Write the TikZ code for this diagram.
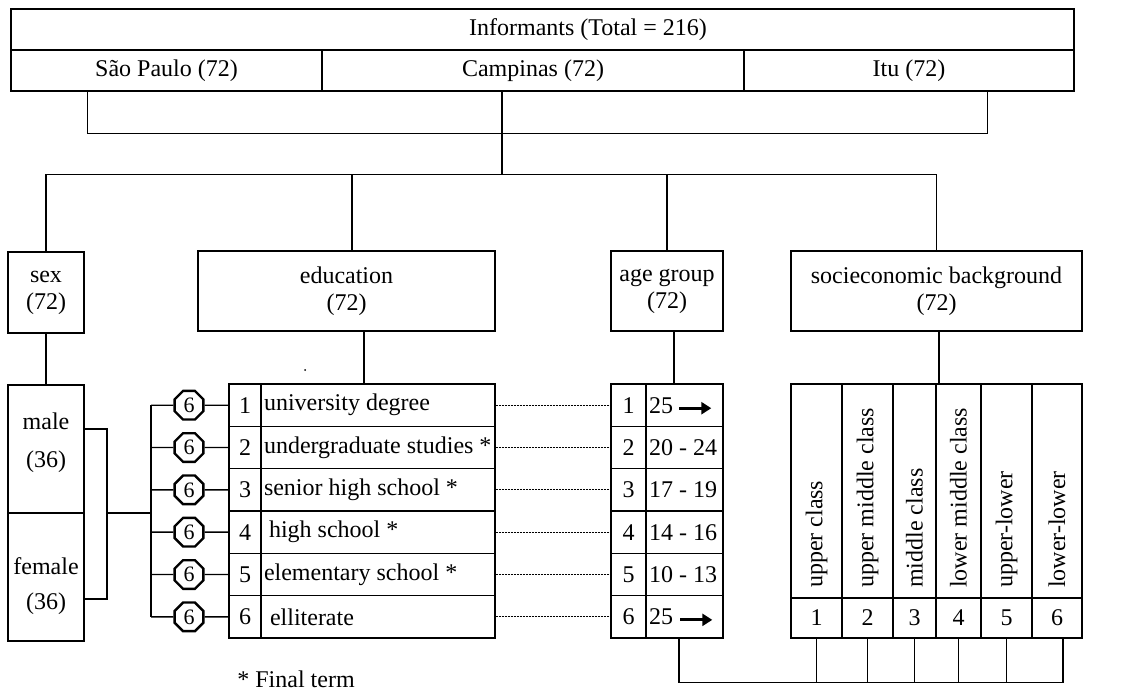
\documentclass[tikz,border=0pt]{standalone}
\usepackage{fontspec}
\setmainfont{Liberation Serif}
\usetikzlibrary{calc}
\usetikzlibrary{arrows.meta}
\usetikzlibrary{shapes.geometric}

\begin{document}
\begin{tikzpicture}[x=1pt, y=-1pt, line width=1.4pt,
    font=\fontsize{24}{27}\selectfont,
    box/.style={draw, inner sep=0pt, align=center},
    octo/.style={draw, regular polygon, regular polygon sides=8, line width=2.4pt, inner sep=0pt, minimum size=31pt, font=\fontsize{22}{24}\selectfont},
    dots/.style={line width=1pt, dash pattern=on 2pt off 1pt},
    older/.style={-{Triangle[length=10pt,width=12pt]}, line width=3pt}]
  \useasboundingbox (0,0) rectangle (1121,693);

  % informants and cities
  \node[box, minimum width=1063pt, minimum height=41pt] (total) at (542.5,29.5) {};
  \node (totaltext) at (588,30) {Informants (Total = 216)};
  \node[box, minimum width=311pt, minimum height=41pt] (sp) at (166.5,70.5) {São Paulo (72)};
  \node[box, minimum width=422pt, minimum height=41pt] (camp) at (533,70.5) {Campinas (72)};
  \node[box, minimum width=330pt, minimum height=41pt] (itu) at (909,70.5) {Itu (72)};
  \draw ([xshift=77pt]sp.south west) -- ++(0,42) -| ([xshift=-87pt]itu.south east);
  \coordinate (hub) at ($(camp.south)+(-31,83)$);
  \draw ([xshift=-31pt]camp.south) -- (hub);

  % the four variables
  \node[box, minimum width=76pt, minimum height=81pt] (sex) at (46,292.5) {sex\\(72)};
  \node[box, minimum width=297pt, minimum height=80pt] (edu) at (346.5,291) {education\\(72)};
  \node[box, minimum width=112pt, minimum height=80pt] (age) at (667,291) {age group\\(72)};
  \node[box, minimum width=291pt, minimum height=80pt] (ses) at (936.5,291) {socieconomic background\\(72)};
  \draw (sex.north) |- (hub) -| (ses.north);
  \draw ([xshift=5.5pt]edu.north) -- ([xshift=5.5pt]edu.north |- hub);
  \draw (age.north) -- (age.north |- hub);

  % sex
  \node[box, minimum width=76pt, minimum height=128pt] (male) at (46,449) {};
  \node[box, minimum width=76pt, minimum height=128pt] (female) at (46,577) {};
  \node[align=center] (maletext) at (46,443) {male\\[11pt](36)};
  \node[align=center] (femaletext) at (46,586) {female\\[8pt](36)};
  \draw (sex.south) -- (male.north);
  \coordinate (sexj) at (107,513);
  \coordinate (eduj) at (151,513);
  \draw ([yshift=20pt]male.east) -| (sexj) |- ([yshift=-22pt]female.east);
  \draw (sexj) -- (eduj);

  % education levels
  \foreach \n/\lab in {1/university degree, 2/undergraduate studies *, 3/senior high school *,
      4/\hspace{5pt}high school *, 5/elementary school *, 6/\hspace{6pt}elliterate} {
    \node[box, minimum width=32pt, minimum height=42.33pt] (en\n) at (245,{405.2+42.33*(\n-1)}) {\n};
    \node[box, minimum width=234pt, minimum height=42.33pt] (et\n) at (378,{405.2+42.33*(\n-1)}) {};
    \node[anchor=west, inner xsep=3pt] (etl\n) at (et\n.west) {\lab};
    \node[octo] (oct\n) at (189,{405.2+42.33*(\n-1)}) {6};
    \draw (eduj |- oct\n) -- (oct\n) -- (en\n);
  }
  \draw (eduj |- oct1) -- (eduj |- oct6);
  \draw ([xshift=17.5pt]edu.south) -- ([xshift=17.5pt]edu.south |- et1.north);
  \fill (305,370) circle (1);

  % age groups
  \foreach \n/\lab in {1/25, 2/20 - 24, 3/17 - 19, 4/14 - 16, 5/10 - 13, 6/25} {
    \node[box, minimum width=35pt, minimum height=42.33pt] (an\n) at (628.5,{405.2+42.33*(\n-1)}) {\n};
    \node[box, minimum width=77pt, minimum height=42.33pt] (av\n) at (684.5,{405.2+42.33*(\n-1)}) {};
    \node[anchor=west, inner xsep=3pt] (avl\n) at (av\n.west) {\lab};
    \draw[dots] (et\n) -- (an\n);
  }
  \draw[older] ([xshift=34pt, yshift=-3pt]av1.west) -- ([xshift=66pt, yshift=-3pt]av1.west);
  \draw[older] ([xshift=35pt, yshift=-3pt]av6.west) -- ([xshift=67pt, yshift=-3pt]av6.west);
  \draw ([xshift=7pt]age.south) -- ([xshift=7pt]age.south |- av1.north);

  % socioeconomic classes
  \foreach \n/\l/\r/\lab in {1/791/842/upper class, 2/842/893/upper middle class, 3/893/936/middle class,
      4/936/981/lower middle class, 5/981/1032/upper-lower, 6/1032/1082/lower-lower} {
    \node[box, minimum width={(\r-\l)*1pt}, minimum height=214pt] (sc\n) at ({(\l+\r)/2},491) {};
    \node[box, minimum width={(\r-\l)*1pt}, minimum height=40pt] (sn\n) at ({(\l+\r)/2},618) {\n};
    \node[rotate=90, anchor=west] (sl\n) at ({(\l+\r)/2},592) {\lab};
  }
  \draw ([xshift=2.5pt]ses.south) -- ([xshift=2.5pt]ses.south |- sc1.north);
  \draw ([xshift=-5.5pt]av6.south) -- ++(0,44) -| ([xshift=6pt]sn6.south);
  \foreach \n in {1,...,5} \draw (sn\n.south) -- ++(0,44);

  \node[inner sep=0pt] (note) at (296,679) {* Final term};
\end{tikzpicture}
\end{document}
